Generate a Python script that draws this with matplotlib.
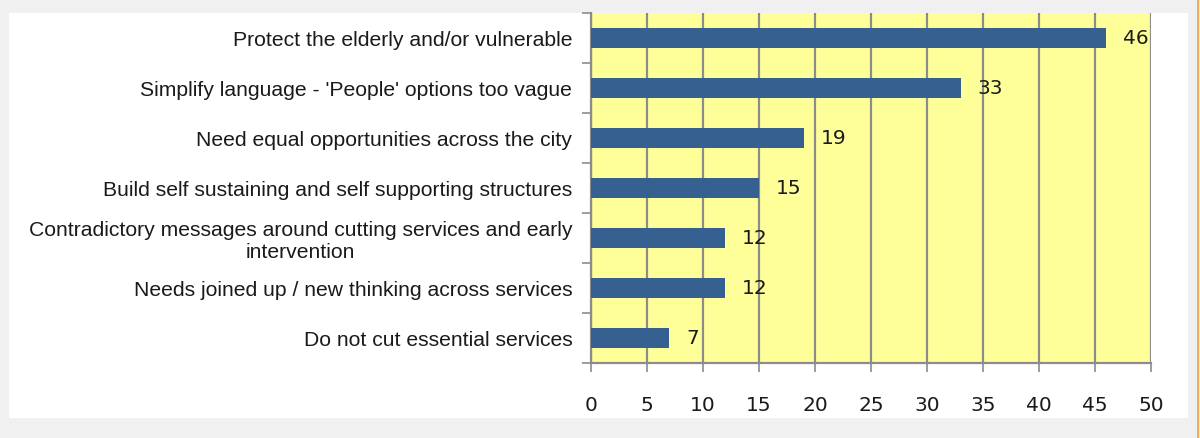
import matplotlib.pyplot as plt
from matplotlib.patches import Rectangle
from matplotlib.lines import Line2D

# survey themes, top to bottom
themes = [
    "Protect the elderly and/or vulnerable",
    "Simplify language - 'People' options too vague",
    "Need equal opportunities across the city",
    "Build self sustaining and self supporting structures",
    "Contradictory messages around cutting services and early\nintervention",
    "Needs joined up / new thinking across services",
    "Do not cut essential services",
]
counts = [46, 33, 19, 15, 12, 12, 7]
x_ticks = [0, 5, 10, 15, 20, 25, 30, 35, 40, 45, 50]

bar_color = "#36608f"
plot_bg = "#ffff99"
grid_color = "#8c8c8c"

fig = plt.figure(figsize=(12, 4.38), dpi=100)
fig.patch.set_facecolor("#f0f0f0")

# white panel behind the chart
fig.add_artist(Rectangle((9 / 1200, 1 - 418 / 438), (1188 - 9) / 1200, (418 - 13) / 438,
                         transform=fig.transFigure, facecolor="white", edgecolor="none", zorder=0))
fig.add_artist(Line2D([1197.5 / 1200, 1197.5 / 1200], [0, 1], transform=fig.transFigure,
                      color="#f0a040", lw=1.2))

ax = fig.add_axes([591 / 1200, 1 - 363 / 438, 560 / 1200, 350 / 438])
ax.set_facecolor(plot_bg)

ypos = list(range(len(themes)))
ax.barh(ypos, counts, height=0.4, color=bar_color, zorder=3)
for y, v in zip(ypos, counts):
    ax.text(v + 1.5, y, str(v), va="center", ha="left", fontsize=14.5,
            family="DejaVu Sans", color="#1a1a1a", zorder=4)

ax.set_xlim(0, 50)
ax.set_ylim(len(themes) - 0.5, -0.5)
ax.set_xticks(x_ticks)
ax.set_xticklabels([str(t) for t in x_ticks], fontsize=14.5, family="DejaVu Sans", color="#1a1a1a")
ax.xaxis.grid(True, color=grid_color, lw=1.6, zorder=1)

# category ticks sit on the boundaries, labels at the centres
ax.set_yticks([i - 0.5 for i in range(len(themes) + 1)])
ax.set_yticklabels([])
ax.set_yticks(ypos, minor=True)
ax.set_yticklabels(themes, minor=True, fontsize=15.2, family="Liberation Sans",
                   color="#1a1a1a", multialignment="center", linespacing=1.22)
ax.tick_params(axis="y", which="minor", length=0, pad=13.5)
ax.tick_params(axis="y", which="major", length=6.5, width=1.2, color=grid_color)
ax.tick_params(axis="x", length=6.5, width=1.2, color=grid_color, pad=17)

for side in ["top", "right"]:
    ax.spines[side].set_visible(False)
for side in ["left", "bottom"]:
    ax.spines[side].set_color(grid_color)
    ax.spines[side].set_linewidth(1.6)

fig.savefig("out.png", dpi=100, facecolor=fig.get_facecolor())
